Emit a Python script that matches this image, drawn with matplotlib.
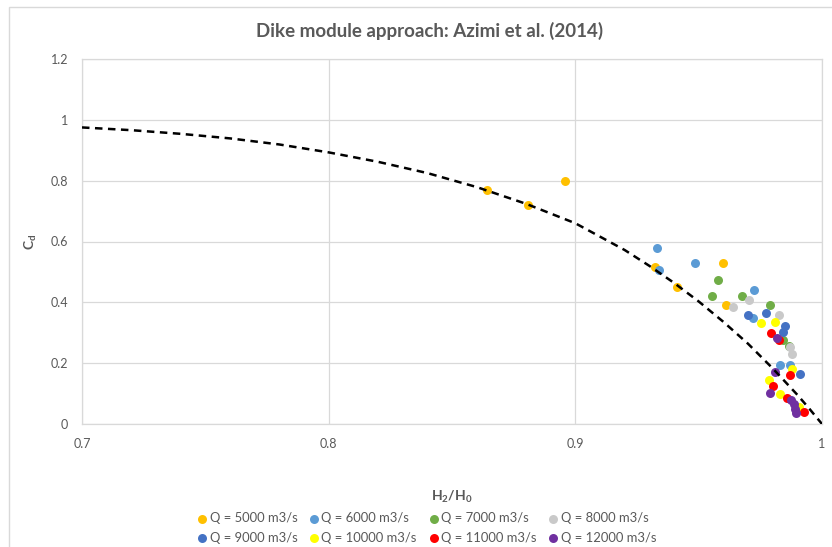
import matplotlib
matplotlib.use("Agg")
import matplotlib.pyplot as plt
from matplotlib.patches import Rectangle

plt.rcParams["font.family"] = ["Lato", "DejaVu Sans"]
plt.rcParams["mathtext.default"] = "regular"

# Dike module curve, Cd against H2/H0
curve_x = [0.70, 0.72, 0.74, 0.76, 0.78, 0.80, 0.82, 0.84, 0.86, 0.88,
           0.90, 0.92, 0.93, 0.94, 0.95, 0.96, 0.97, 0.98, 0.99, 0.995, 1.00]
curve_y = [0.975, 0.966, 0.954, 0.939, 0.919, 0.893, 0.862, 0.825, 0.779, 0.724,
           0.660, 0.572, 0.520, 0.464, 0.403, 0.336, 0.264, 0.183, 0.096, 0.049, 0.0]

# measured points per discharge
q5000_x = [0.864, 0.881, 0.896, 0.9323, 0.9413, 0.960, 0.9611]
q5000_y = [0.770, 0.720, 0.800, 0.515, 0.451, 0.528, 0.391]
q6000_x = [0.9330, 0.9338, 0.9485, 0.9724, 0.9721, 0.9829, 0.987]
q6000_y = [0.578, 0.506, 0.528, 0.440, 0.347, 0.194, 0.194]
q7000_x = [0.958, 0.9553, 0.9677, 0.9789, 0.984, 0.9865]
q7000_y = [0.473, 0.422, 0.422, 0.391, 0.275, 0.258]
q8000_x = [0.9705, 0.964, 0.9825, 0.987, 0.988]
q8000_y = [0.408, 0.384, 0.358, 0.254, 0.229]
q9000_x = [0.970, 0.9771, 0.9852, 0.9843, 0.991]
q9000_y = [0.358, 0.364, 0.323, 0.303, 0.164]
q10000_x = [0.9752, 0.9809, 0.988, 0.9785, 0.9828, 0.9905]
q10000_y = [0.331, 0.336, 0.180, 0.145, 0.097, 0.055]
q11000_x = [0.9793, 0.9825, 0.987, 0.9802, 0.9857, 0.9925]
q11000_y = [0.298, 0.276, 0.161, 0.126, 0.086, 0.040]
q12000_x = [0.9816, 0.9811, 0.9791, 0.9875, 0.9885, 0.989, 0.9894]
q12000_y = [0.282, 0.172, 0.103, 0.080, 0.067, 0.048, 0.036]

series = [
    ("Q = 5000 m3/s", q5000_x, q5000_y, "#FFC000"),
    ("Q = 6000 m3/s", q6000_x, q6000_y, "#5B9BD5"),
    ("Q = 7000 m3/s", q7000_x, q7000_y, "#70AD47"),
    ("Q = 8000 m3/s", q8000_x, q8000_y, "#C9C9C9"),
    ("Q = 9000 m3/s", q9000_x, q9000_y, "#4472C4"),
    ("Q = 10000 m3/s", q10000_x, q10000_y, "#FFFF00"),
    ("Q = 11000 m3/s", q11000_x, q11000_y, "#FF0000"),
    ("Q = 12000 m3/s", q12000_x, q12000_y, "#7030A0"),
]

x_ticks = [0.7, 0.8, 0.9, 1.0]
x_tick_labels = ["0.7", "0.8", "0.9", "1"]
y_ticks = [0, 0.2, 0.4, 0.6, 0.8, 1.0, 1.2]
y_tick_labels = ["0", "0.2", "0.4", "0.6", "0.8", "1", "1.2"]

W, H = 832, 547
fig = plt.figure(figsize=(W / 100, H / 100), dpi=100, facecolor="white")
# chart frame
fig.patches.append(Rectangle((9 / W, -0.05), 1.2, 1 - 7 / H + 0.05, transform=fig.transFigure,
                             facecolor="none", edgecolor="#D9D9D9", linewidth=1.0))

ax = fig.add_axes([82 / W, 1 - 424 / H, (822 - 82) / W, (424 - 59) / H])

handles = []
for label, xs, ys, col in series:
    h = ax.scatter(xs, ys, s=42, color=col, label=label, zorder=3, linewidths=0)
    handles.append(h)

ax.plot(curve_x, curve_y, color="black", linewidth=1.8, dashes=(3, 2.2), zorder=4)

ax.set_xlim(0.7, 1.0)
ax.set_ylim(0, 1.2)
ax.set_xticks(x_ticks)
ax.set_xticklabels(x_tick_labels)
ax.set_yticks(y_ticks)
ax.set_yticklabels(y_tick_labels)
ax.tick_params(length=0, labelsize=9, labelcolor="#595959", pad=10)
ax.grid(True, color="#D9D9D9", linewidth=0.9, zorder=0)
ax.set_axisbelow(True)
for sp in ax.spines.values():
    sp.set_color("#D9D9D9")
    sp.set_linewidth(0.9)

ax.set_xlabel("H$_2$/H$_0$", fontsize=10, fontweight="bold", color="#595959", labelpad=28)
ax.set_ylabel("C$_d$", fontsize=10, fontweight="bold", color="#595959", labelpad=8)

fig.text(430 / W, 1 - 31 / H, "Dike module approach: Azimi et al. (2014)", ha="center", va="center",
         fontsize=13.5, color="#595959", fontweight="bold")

# legend reads row by row, matplotlib fills column by column
order = [0, 4, 1, 5, 2, 6, 3, 7]
ax.legend([handles[i] for i in order], [series[i][0] for i in order],
          loc="center", bbox_to_anchor=(426 / W, 1 - 528 / H), bbox_transform=fig.transFigure,
          ncol=4, frameon=False, fontsize=9.4, labelcolor="#595959", handletextpad=0.05,
          columnspacing=0.8, markerscale=1.0, borderaxespad=0, labelspacing=0.6,
          handlelength=1.0)

fig.savefig("out.png", dpi=100, facecolor="white")
